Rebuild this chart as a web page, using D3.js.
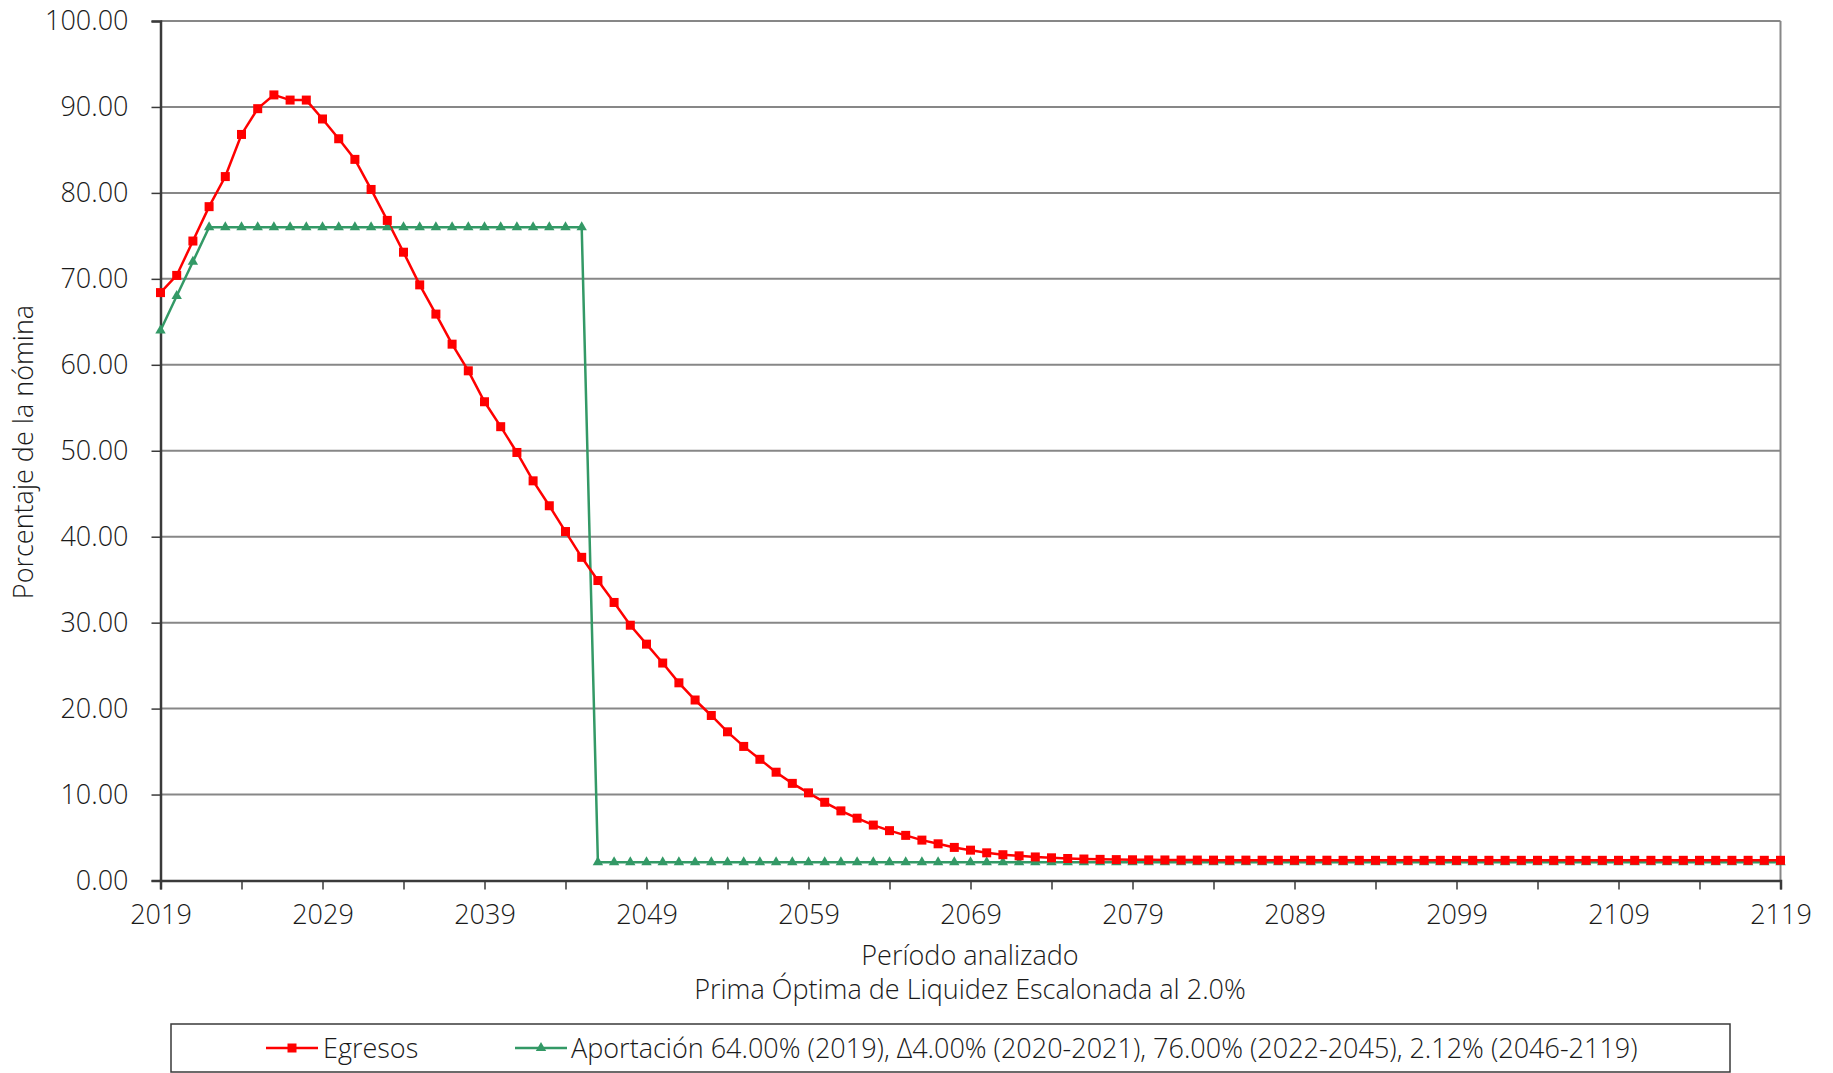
<!DOCTYPE html>
<html>
<head>
<meta charset="utf-8">
<script src="https://cdn.jsdelivr.net/npm/d3@7"></script>
<style>
  html, body { margin: 0; padding: 0; background: #ffffff; }
  svg text { font-family: "Open Sans", "Lato", sans-serif; font-weight: 300; fill: #1a1a1a; }
</style>
</head>
<body>
<svg id="chart" width="1833" height="1073"></svg>
<script>
const years = d3.range(2019, 2120);
const egresos = [
  68.4, 70.4, 74.4, 78.4, 81.9, 86.8, 89.8, 91.4, 90.8, 90.8,
  88.6, 86.3, 83.9, 80.4, 76.8, 73.1, 69.3, 65.9, 62.4, 59.3,
  55.7, 52.8, 49.8, 46.5, 43.6, 40.6, 37.6, 34.9, 32.35, 29.7,
  27.5, 25.3, 23.0, 21.0, 19.2, 17.3, 15.6, 14.1, 12.6, 11.3,
  10.2, 9.1, 8.1, 7.25, 6.45, 5.8, 5.25, 4.7, 4.27, 3.85,
  3.53, 3.22, 3.0, 2.87, 2.74, 2.64, 2.56, 2.50, 2.46, 2.43,
  2.41, 2.40, 2.39, 2.38, 2.38, 2.37, 2.37, 2.37, 2.36, 2.36,
  2.36, 2.36, 2.36, 2.35, 2.35, 2.35, 2.35, 2.35, 2.35, 2.35,
  2.35, 2.35, 2.35, 2.35, 2.35, 2.35, 2.35, 2.35, 2.35, 2.35,
  2.35, 2.35, 2.35, 2.35, 2.35, 2.35, 2.35, 2.35, 2.35, 2.35,
  2.35
];
const aportacion = [
  64.0, 68.0, 72.0,
  76.0, 76.0, 76.0, 76.0, 76.0, 76.0, 76.0, 76.0, 76.0, 76.0, 76.0, 76.0,
  76.0, 76.0, 76.0, 76.0, 76.0, 76.0, 76.0, 76.0, 76.0, 76.0, 76.0, 76.0,
  2.12, 2.12, 2.12, 2.12, 2.12, 2.12, 2.12, 2.12, 2.12, 2.12,
  2.12, 2.12, 2.12, 2.12, 2.12, 2.12, 2.12, 2.12, 2.12, 2.12,
  2.12, 2.12, 2.12, 2.12, 2.12, 2.12, 2.12, 2.12, 2.12, 2.12,
  2.12, 2.12, 2.12, 2.12, 2.12, 2.12, 2.12, 2.12, 2.12, 2.12,
  2.12, 2.12, 2.12, 2.12, 2.12, 2.12, 2.12, 2.12, 2.12, 2.12,
  2.12, 2.12, 2.12, 2.12, 2.12, 2.12, 2.12, 2.12, 2.12, 2.12,
  2.12, 2.12, 2.12, 2.12, 2.12, 2.12, 2.12, 2.12, 2.12, 2.12,
  2.12, 2.12, 2.12, 2.12
];
const yTicks = [0, 10, 20, 30, 40, 50, 60, 70, 80, 90, 100];
const xLabelYears = [2019, 2029, 2039, 2049, 2059, 2069, 2079, 2089, 2099, 2109, 2119];
const xMinorYears = d3.range(2019, 2120, 5);
const yTitle = "Porcentaje de la nómina";
const xTitle = "Período analizado";
const subTitle = "Prima Óptima de Liquidez Escalonada al 2.0%";
const seriesNames = ["Egresos", "Aportación 64.00% (2019), Δ4.00% (2020-2021), 76.00% (2022-2045), 2.12% (2046-2119)"];

const svg = d3.select("#chart");
const L = 160.5, R = 1780.5, T = 21, B = 880.5;
const FS = "27px";
const x = d3.scaleLinear().domain([2019, 2119]).range([L, R]);
const y = d3.scaleLinear().domain([0, 100]).range([B, T]);

// gridlines
svg.append("g").selectAll("line").data(yTicks.filter(d => d > 0)).join("line")
  .attr("x1", L).attr("x2", R).attr("y1", d => y(d)).attr("y2", d => y(d))
  .attr("stroke", "#878787").attr("stroke-width", 2);
// right border
svg.append("line").attr("x1", R).attr("x2", R).attr("y1", T).attr("y2", B)
  .attr("stroke", "#878787").attr("stroke-width", 2);

// y axis
const yAxis = d3.axisLeft(y).tickValues(yTicks).tickFormat(d3.format(".2f")).tickSize(9).tickPadding(23);
const gy = svg.append("g").attr("transform", `translate(${L},0)`).call(yAxis);
gy.select(".domain").attr("stroke", "#3a3a3a").attr("stroke-width", 2.5);
gy.selectAll(".tick line").attr("stroke", "#3a3a3a").attr("stroke-width", 1.5);
gy.selectAll(".tick text").style("font-size", FS).attr("fill", "#1a1a1a");

// x axis
const xAxis = d3.axisBottom(x).tickValues(xMinorYears).tickFormat(d => xLabelYears.includes(d) ? d : "").tickSize(9).tickPadding(15);
const gx = svg.append("g").attr("transform", `translate(0,${B})`).call(xAxis);
gx.select(".domain").attr("stroke", "#3a3a3a").attr("stroke-width", 2.5);
gx.selectAll(".tick line").attr("stroke", "#3a3a3a").attr("stroke-width", 1.5);
gx.selectAll(".tick text").style("font-size", FS).attr("fill", "#1a1a1a");

// lines
const lineGen = d3.line().x((d, i) => x(years[i])).y(d => y(d));
svg.append("path").datum(aportacion).attr("d", lineGen)
  .attr("fill", "none").attr("stroke", "#339966").attr("stroke-width", 2.5);
svg.append("path").datum(egresos).attr("d", lineGen)
  .attr("fill", "none").attr("stroke", "#ff0000").attr("stroke-width", 2.5);

const triPath = "M0,-6L5.2,3L-5.2,3Z";
svg.append("g").selectAll("path").data(aportacion).join("path")
  .attr("d", triPath).attr("transform", (d, i) => `translate(${x(years[i])},${y(d)})`)
  .attr("fill", "#339966");
svg.append("g").selectAll("rect").data(egresos).join("rect")
  .attr("x", (d, i) => x(years[i]) - 4.5).attr("y", d => y(d) - 4.5)
  .attr("width", 9).attr("height", 9).attr("fill", "#ff0000");

// titles
svg.append("text").attr("transform", `translate(33,452) rotate(-90)`)
  .attr("text-anchor", "middle").style("font-size", FS).text(yTitle);
svg.append("text").attr("x", 970).attr("y", 965).attr("text-anchor", "middle")
  .style("font-size", FS).text(xTitle);
svg.append("text").attr("x", 970).attr("y", 998.5).attr("text-anchor", "middle")
  .style("font-size", FS).text(subTitle);

// legend
svg.append("rect").attr("x", 171).attr("y", 1024).attr("width", 1559).attr("height", 48)
  .attr("fill", "none").attr("stroke", "#3a3a3a").attr("stroke-width", 1.5);
const ly = 1048;
const lg1 = svg.append("g");
lg1.append("line").attr("x1", 266).attr("x2", 318).attr("y1", ly).attr("y2", ly)
  .attr("stroke", "#ff0000").attr("stroke-width", 2.5);
lg1.append("rect").attr("x", 287.5).attr("y", ly - 4.5).attr("width", 9).attr("height", 9).attr("fill", "#ff0000");
lg1.append("text").attr("x", 323).attr("y", ly + 9.5).style("font-size", FS).text(seriesNames[0]);
const lg2 = svg.append("g");
lg2.append("line").attr("x1", 515).attr("x2", 567).attr("y1", ly).attr("y2", ly)
  .attr("stroke", "#339966").attr("stroke-width", 2.5);
lg2.append("path").attr("d", triPath).attr("transform", `translate(541,${ly})`).attr("fill", "#339966");
lg2.append("text").attr("x", 571).attr("y", ly + 9.5).style("font-size", FS).text(seriesNames[1]);
</script>
</body>
</html>
